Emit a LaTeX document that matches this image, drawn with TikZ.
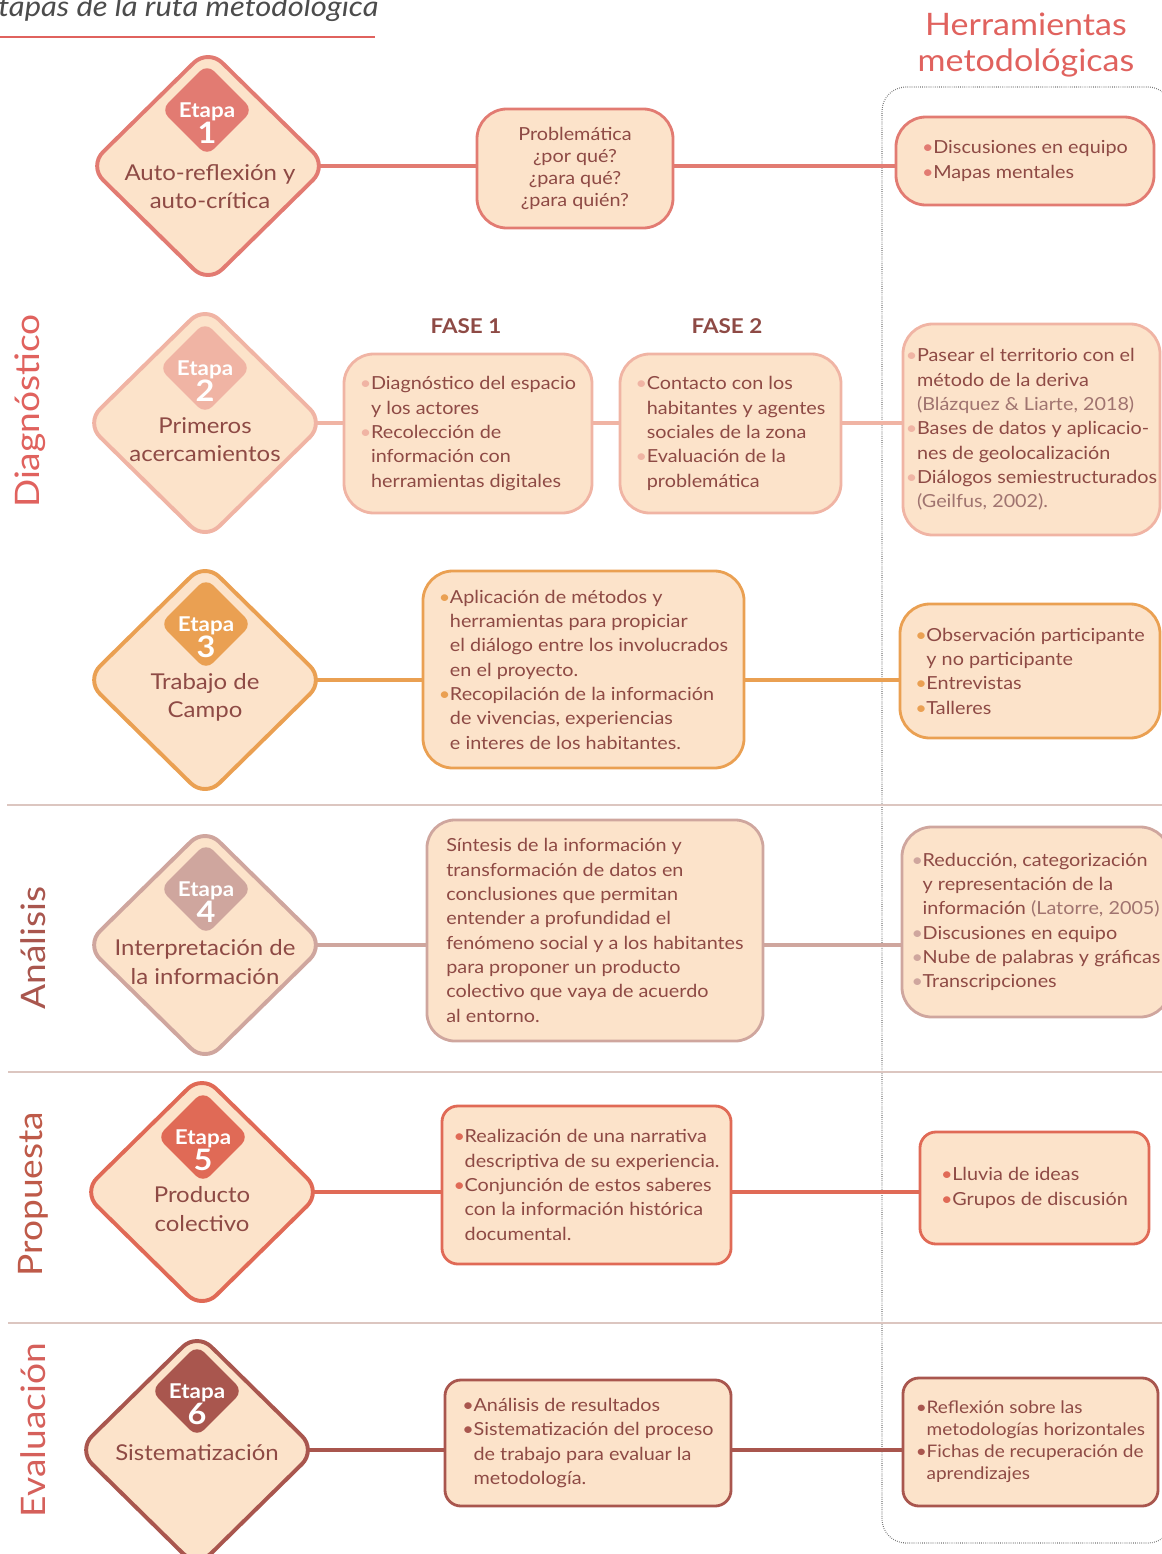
\documentclass[tikz,border=0pt]{standalone}
\usepackage{fontspec}
\setmainfont{Lato}[FakeStretch=1.1]
\usetikzlibrary{shapes.geometric,backgrounds}

% Colores
\definecolor{fondo}{HTML}{FCE3CA}
\definecolor{texto}{HTML}{8E4A45}
\definecolor{cita}{HTML}{A07470}
\definecolor{etapaA}{HTML}{E27B72}
\definecolor{etapaB}{HTML}{F0B4A4}
\definecolor{etapaC}{HTML}{EAA052}
\definecolor{etapaD}{HTML}{CFA69E}
\definecolor{etapaE}{HTML}{E06A56}
\definecolor{etapaF}{HTML}{A9564E}
\definecolor{titulo}{HTML}{E0625E}
\definecolor{separa}{HTML}{DCC6C0}

% Viñetas
\newcommand{\pto}[1]{\makebox[0.62em][l]{\textcolor{#1}{\textbullet}}}
\newcommand{\sangria}{\hspace*{0.62em}}

\begin{document}
\begin{tikzpicture}[x=0.025cm, y=-0.025cm,
    etapa/.style={diamond, aspect=1, draw, fill=fondo, line width=2.8pt, rounded corners=0.5cm,
        minimum width=6cm, minimum height=5.9cm, inner sep=0},
    sello/.style={diamond, aspect=1, minimum width=2.3cm, minimum height=2.3cm, rounded corners=0.25cm, inner sep=0},
    sellotxt/.style={text=white, align=center, inner sep=0},
    rotulo/.style={text=texto, align=center, inner sep=0, font=\fontsize{15.5}{20}\selectfont},
    caja/.style={draw, fill=fondo, line width=2pt, rounded corners=0.75cm, inner sep=0, text=texto,
        align=left, font=\fontsize{12.8}{17.3}\selectfont},
    enlace/.style={line width=2.8pt},
    seccion/.style={rotate=90, inner sep=0, font=\fontsize{24}{24}\selectfont},
    fase/.style={text=texto, inner sep=0, font=\bfseries\fontsize{14.5}{15}\selectfont},
]
    \useasboundingbox (0,0) rectangle (1162,1554);

    % Titulo
    \node[anchor=base west, inner sep=0, text=black!70, font=\itshape\fontsize{20}{20}\selectfont] (tit) at (-2,16) {tapas de la ruta metodológica};
    \draw[titulo, line width=1.1pt] (0,37) -- (375,37);
    \node[align=center, inner sep=0, text=titulo, font=\fontsize{22}{25.6}\selectfont] (herr) at (1026,45) {Herramientas\\metodológicas};

    % Secciones
    \node[seccion, text=titulo] (sdiag) at (30,411) {Diagnóstico};
    \node[seccion, text=etapaF] (sanal) at (33,948) {Análisis};
    \node[seccion, text=etapaE!85!black] (sprop) at (33,1194) {Propuesta};
    \node[seccion, text=titulo!80!etapaF] (seval) at (33,1430) {Evaluación};

    % Etapa 1
    \node[etapa, draw=etapaA] (d1) at (208,166) {};
    \node[sello, fill=etapaA] (s1) at (207,110) {};
    \node[sellotxt] at (207,123) {\bfseries\fontsize{14.5}{15}\selectfont Etapa\\\bfseries\fontsize{21}{25.5}\selectfont 1};
    \node[rotulo] (r1) at (210,187) {Auto-reflexión y\\auto-crítica};
    \node[caja, draw=etapaA, align=center, minimum width=4.9cm, minimum height=2.975cm,
        font=\fontsize{12.8}{15.6}\selectfont] (p1) at (575,168.5) {Problemática\\¿por qué?\\¿para qué?\\¿para quién?};
    \node[caja, draw=etapaA, minimum width=6.45cm, minimum height=2.2cm] (h1) at (1025,161)
        {\pto{etapaA}Discusiones en equipo\\\pto{etapaA}Mapas mentales};

    % Etapa 2
    \node[etapa, draw=etapaB] (d2) at (205,423) {};
    \node[sello, fill=etapaB] (s2) at (205,368) {};
    \node[sellotxt] at (205,381) {\bfseries\fontsize{14.5}{15}\selectfont Etapa\\\bfseries\fontsize{21}{25.5}\selectfont 2};
    \node[rotulo] (r2) at (205,440) {Primeros\\acercamientos};
    \node[fase] (t1) at (466,326) {FASE 1};
    \node[fase] (t2) at (727,326) {FASE 2};
    \node[caja, draw=etapaB, minimum width=6.2cm, minimum height=3.975cm] (f1) at (468,433.5)
        {\pto{etapaB}Diagnóstico del espacio\\
         \sangria y los actores\\
         \pto{etapaB}Recolección de\\
         \sangria información con\\
         \sangria herramientas digitales};
    \node[caja, draw=etapaB, minimum width=5.525cm, minimum height=3.975cm] (f2) at (730.5,433.5)
        {\pto{etapaB}Contacto con los\\
         \sangria habitantes y agentes\\
         \sangria sociales de la zona\\
         \pto{etapaB}Evaluación de la\\
         \sangria problemática};
    \node[caja, draw=etapaB, minimum width=6.425cm, minimum height=5.275cm] (h2) at (1031.5,429.5)
        {\pto{etapaB}Pasear el territorio con el\\
         \sangria método de la deriva\\
         \sangria\textcolor{cita}{(Blázquez \& Liarte, 2018)}\\
         \pto{etapaB}Bases de datos y aplicacio-\\
         \sangria nes de geolocalización\\
         \pto{etapaB}Diálogos semiestructurados\\
         \sangria\textcolor{cita}{(Geilfus, 2002).}};

    % Etapa 3
    \node[etapa, draw=etapaC] (d3) at (205,680) {};
    \node[sello, fill=etapaC] (s3) at (206,624) {};
    \node[sellotxt] at (206,637) {\bfseries\fontsize{14.5}{15}\selectfont Etapa\\\bfseries\fontsize{21}{25.5}\selectfont 3};
    \node[rotulo] (r3) at (205,697) {Trabajo de\\Campo};
    \node[caja, draw=etapaC, minimum width=8.025cm, minimum height=4.925cm] (p3) at (583.5,669.5)
        {\pto{etapaC}Aplicación de métodos y\\
         \sangria herramientas para propiciar\\
         \sangria el diálogo entre los involucrados\\
         \sangria en el proyecto.\\
         \pto{etapaC}Recopilación de la información\\
         \sangria de vivencias, experiencias\\
         \sangria e interes de los habitantes.};
    \node[caja, draw=etapaC, minimum width=6.5cm, minimum height=3.35cm] (h3) at (1030,671)
        {\pto{etapaC}Observación participante\\
         \sangria y no participante\\
         \pto{etapaC}Entrevistas\\
         \pto{etapaC}Talleres};

    % Etapa 4
    \node[etapa, draw=etapaD] (d4) at (205,945) {};
    \node[sello, fill=etapaD] (s4) at (206,889) {};
    \node[sellotxt] at (206,902) {\bfseries\fontsize{14.5}{15}\selectfont Etapa\\\bfseries\fontsize{21}{25.5}\selectfont 4};
    \node[rotulo] (r4) at (205,962) {Interpretación de\\la información};
    \node[caja, draw=etapaD, rounded corners=0.7cm, minimum width=8.4cm, minimum height=5.525cm] (p4) at (595,930.5)
        {Síntesis de la información y\\
         transformación de datos en\\
         conclusiones que permitan\\
         entender a profundidad el\\
         fenómeno social y a los habitantes\\
         para proponer un producto\\
         colectivo que vaya de acuerdo\\
         al entorno.};
    \node[caja, draw=etapaD, minimum width=6.7cm, minimum height=4.75cm] (h4) at (1036,922)
        {\pto{etapaD}Reducción, categorización\\
         \sangria y representación de la\\
         \sangria información \textcolor{cita}{(Latorre, 2005)}\\
         \pto{etapaD}Discusiones en equipo\\
         \pto{etapaD}Nube de palabras y gráficas\\
         \pto{etapaD}Transcripciones};

    % Etapa 5
    \node[etapa, draw=etapaE] (d5) at (202,1192) {};
    \node[sello, fill=etapaE] (s5) at (203,1137) {};
    \node[sellotxt] at (203,1150) {\bfseries\fontsize{14.5}{15}\selectfont Etapa\\\bfseries\fontsize{21}{25.5}\selectfont 5};
    \node[rotulo] (r5) at (202,1209) {Producto\\colectivo};
    \node[caja, draw=etapaE, rounded corners=0.4cm, minimum width=7.225cm, minimum height=3.95cm] (p5) at (586.5,1185)
        {\pto{etapaE}Realización de una narrativa\\
         \sangria descriptiva de su experiencia.\\
         \pto{etapaE}Conjunción de estos saberes\\
         \sangria con la información histórica\\
         \sangria documental.};
    \node[caja, draw=etapaE, rounded corners=0.4cm, minimum width=5.725cm, minimum height=2.8cm] (h5) at (1034.5,1188)
        {\pto{etapaE}Lluvia de ideas\\\pto{etapaE}Grupos de discusión};

    % Etapa 6
    \node[etapa, draw=etapaF] (d6) at (197,1450) {};
    \node[sello, fill=etapaF] (s6) at (197,1391) {};
    \node[sellotxt] at (197,1404) {\bfseries\fontsize{14.5}{15}\selectfont Etapa\\\bfseries\fontsize{21}{25.5}\selectfont 6};
    \node[rotulo] (r6) at (197,1453) {Sistematización};
    \node[caja, draw=etapaF, rounded corners=0.4cm, minimum width=7.15cm, minimum height=3.15cm] (p6) at (588,1443)
        {\pto{etapaF}Análisis de resultados\\
         \pto{etapaF}Sistematización del proceso\\
         \sangria de trabajo para evaluar la\\
         \sangria metodología.};
    \node[caja, draw=etapaF, rounded corners=0.4cm, minimum width=6.375cm, minimum height=3.2cm,
        font=\fontsize{12.3}{15.6}\selectfont] (h6) at (1030.5,1442)
        {\pto{etapaF}Reflexión sobre las\\
         \sangria metodologías horizontales\\
         \pto{etapaF}Fichas de recuperación de\\
         \sangria aprendizajes};

    % Fondo: marco, separadores y enlaces
    \begin{scope}[on background layer]
        \draw[black!55, line width=0.8pt, dash pattern=on 0.5pt off 1pt, rounded corners=0.6cm] (882,87) rectangle (1172,1543);
        \draw[separa, line width=1.4pt] (7,805) -- (1162,805);
        \draw[separa, line width=1.4pt] (8,1072) -- (1162,1072);
        \draw[separa, line width=1.4pt] (8,1323) -- (1162,1323);

        \draw[enlace, etapaA] (d1.center) -- (d1 -| p1.west);
        \draw[enlace, etapaA] (d1 -| p1.east) -- (d1 -| h1.west);
        \draw[enlace, etapaB] (d2.center) -- (d2 -| f1.west);
        \draw[enlace, etapaB] (d2 -| f1.east) -- (d2 -| f2.west);
        \draw[enlace, etapaB] (d2 -| f2.east) -- (d2 -| h2.west);
        \draw[enlace, etapaC] (d3.center) -- (d3 -| p3.west);
        \draw[enlace, etapaC] (d3 -| p3.east) -- (d3 -| h3.west);
        \draw[enlace, etapaD] (d4.center) -- (d4 -| p4.west);
        \draw[enlace, etapaD] (d4 -| p4.east) -- (d4 -| h4.west);
        \draw[enlace, etapaE] (d5.center) -- (d5 -| p5.west);
        \draw[enlace, etapaE] (d5 -| p5.east) -- (d5 -| h5.west);
        \draw[enlace, etapaF] (d6.center) -- (d6 -| p6.west);
        \draw[enlace, etapaF] (d6 -| p6.east) -- (d6 -| h6.west);
    \end{scope}
\end{tikzpicture}
\end{document}
